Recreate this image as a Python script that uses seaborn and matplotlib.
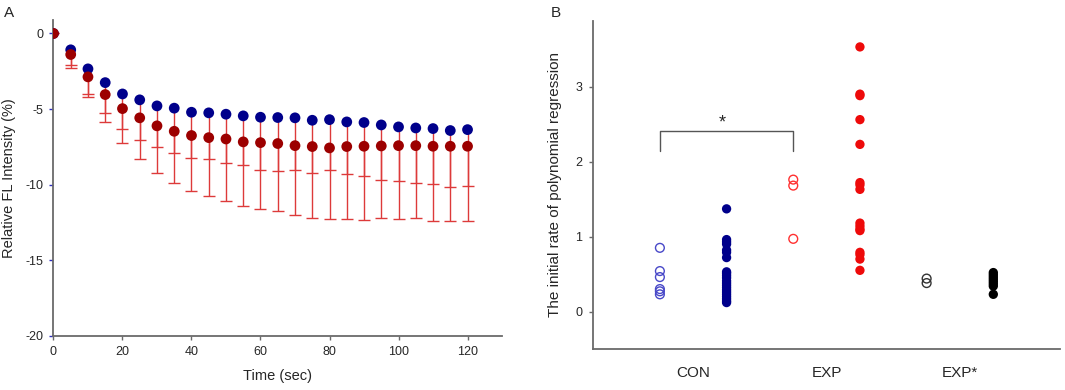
import numpy as np
import pandas as pd
import seaborn as sns
import matplotlib
matplotlib.use("Agg")
import matplotlib.pyplot as plt

# Panel A data: relative FL intensity over time (mean and SD, two groups)
time_sec = [0, 5, 10, 15, 20, 25, 30, 35, 40, 45, 50, 55, 60,
            65, 70, 75, 80, 85, 90, 95, 100, 105, 110, 115, 120]
blue_mean = [0, -1.08, -2.34, -3.25, -4.00, -4.39, -4.79, -4.94, -5.21, -5.25, -5.34, -5.45, -5.54,
             -5.56, -5.58, -5.74, -5.70, -5.85, -5.89, -6.05, -6.18, -6.25, -6.29, -6.42, -6.36]
blue_sd = [0, 1.02, 1.68, 1.98, 2.29, 2.65, 2.72, 2.96, 3.02, 3.07, 3.25, 3.25, 3.51,
           3.53, 3.47, 3.47, 3.35, 3.47, 3.54, 3.62, 3.60, 3.64, 3.69, 3.76, 3.75]
red_mean = [0, -1.39, -2.87, -4.04, -4.97, -5.58, -6.11, -6.47, -6.75, -6.89, -6.98, -7.17, -7.22,
            -7.28, -7.42, -7.48, -7.57, -7.48, -7.46, -7.44, -7.42, -7.42, -7.46, -7.46, -7.46]
red_sd = [0, 0.86, 1.32, 1.81, 2.25, 2.74, 3.10, 3.42, 3.67, 3.86, 4.08, 4.26, 4.39,
          4.49, 4.59, 4.71, 4.73, 4.82, 4.88, 4.79, 4.88, 4.81, 4.92, 4.92, 4.92]

# Panel B data: initial rate of polynomial regression per subgroup
con_open = [0.85, 0.54, 0.46, 0.30, 0.27, 0.23]
con_filled = [1.37, 0.96, 0.93, 0.90, 0.82, 0.79, 0.72, 0.53, 0.51, 0.48, 0.45, 0.41,
              0.38, 0.35, 0.32, 0.29, 0.26, 0.23, 0.20, 0.17, 0.14, 0.12]
exp_open = [1.76, 1.68, 0.97]
exp_filled = [3.53, 2.90, 2.88, 2.56, 2.23, 1.72, 1.69, 1.63, 1.18, 1.14, 1.10, 1.08,
              0.79, 0.76, 0.70, 0.55]
expstar_open = [0.44, 0.38]
expstar_filled = [0.52, 0.49, 0.46, 0.43, 0.40, 0.37, 0.34, 0.23]
group_labels = ["CON", "EXP", "EXP*"]

sns.set_style("white")
plt.rcParams["font.family"] = ["Liberation Sans", "DejaVu Sans"]
plt.rcParams["axes.unicode_minus"] = False

fig = plt.figure(figsize=(10.65, 3.9), dpi=100)
axA = fig.add_axes([0.0502, 0.139, 0.4212, 0.810])
axB = fig.add_axes([0.557, 0.105, 0.4383, 0.842])

spine_col = "#6a6a6a"

# ---- Panel A ----
err_col = "#dd3a3a"
for mean, sd in [(blue_mean, blue_sd), (red_mean, red_sd)]:
    sd = np.array(sd)
    eb = axA.errorbar(time_sec, mean, yerr=[sd, np.zeros_like(sd)], fmt="none",
                      ecolor=err_col, elinewidth=1.0, capsize=4, capthick=1.0, zorder=1)
    eb[1][1].set_visible(False)

dfA = pd.DataFrame({
    "time": time_sec * 2,
    "value": blue_mean + red_mean,
    "group": ["blue"] * len(time_sec) + ["red"] * len(time_sec),
})
sns.scatterplot(data=dfA, x="time", y="value", hue="group",
                palette={"blue": "#00008b", "red": "#9c0000"},
                s=60, edgecolor="none", legend=False, ax=axA, zorder=3)

axA.set_xlim(0, 130)
axA.set_ylim(-20, 0.9)
axA.set_xticks(range(0, 121, 20))
axA.set_yticks([0, -5, -10, -15, -20])
axA.set_xlabel("Time (sec)", fontsize=10.5, labelpad=8)
axA.set_ylabel("Relative FL Intensity (%)", fontsize=10.5)
axA.yaxis.set_label_coords(-0.083, 0.5)
sns.despine(ax=axA)
for side in ["left", "bottom"]:
    axA.spines[side].set_color(spine_col)
    axA.spines[side].set_linewidth(1.3)
axA.tick_params(axis="x", direction="out", length=3, width=1, color=spine_col,
                labelsize=9, pad=4, bottom=True)
axA.tick_params(axis="y", direction="out", length=3, width=1, color="#3030c0",
                labelsize=9, pad=4, left=True)

# ---- Panel B ----
subgroups = [
    (con_open, "#4848c8", True),
    (con_filled, "#00008b", False),
    (exp_open, "#ff3030", True),
    (exp_filled, "#ee0a0a", False),
    (expstar_open, "#333333", True),
    (expstar_filled, "#000000", False),
]
for i, (vals, col, hollow) in enumerate(subgroups):
    d = pd.DataFrame({"x": [i] * len(vals), "y": vals})
    if hollow:
        sns.scatterplot(data=d, x="x", y="y", s=40, facecolor="none",
                        edgecolor=col, linewidth=1.0, ax=axB, zorder=3)
    else:
        sns.scatterplot(data=d, x="x", y="y", s=45, color=col,
                        edgecolor="none", ax=axB, zorder=3)

# significance bracket between CON (open) and EXP (open)
axB.plot([0, 0, 2, 2], [2.14, 2.41, 2.41, 2.14], color="#555555", lw=1.0)
axB.text(0.94, 2.52, "*", ha="center", va="center", fontsize=13)

axB.set_xlim(-1, 6)
axB.set_ylim(-0.5, 3.88)
axB.set_yticks([0, 1, 2, 3])
axB.set_xticks([0.5, 2.5, 4.5])
axB.set_xticklabels(group_labels)
axB.set_xlabel("")
axB.set_ylabel("The initial rate of polynomial regression", fontsize=11)
axB.yaxis.set_label_coords(-0.067, 0.5)
sns.despine(ax=axB)
for side in ["left", "bottom"]:
    axB.spines[side].set_color(spine_col)
    axB.spines[side].set_linewidth(1.3)
axB.tick_params(axis="x", length=0, labelsize=11, pad=12)
axB.tick_params(axis="y", direction="out", length=3, width=1, color=spine_col,
                labelsize=9, pad=5, left=True)

fig.text(0.004, 0.985, "A", fontsize=11, va="top", ha="left")
fig.text(0.517, 0.985, "B", fontsize=11, va="top", ha="left")

fig.savefig("out.png", dpi=100)
